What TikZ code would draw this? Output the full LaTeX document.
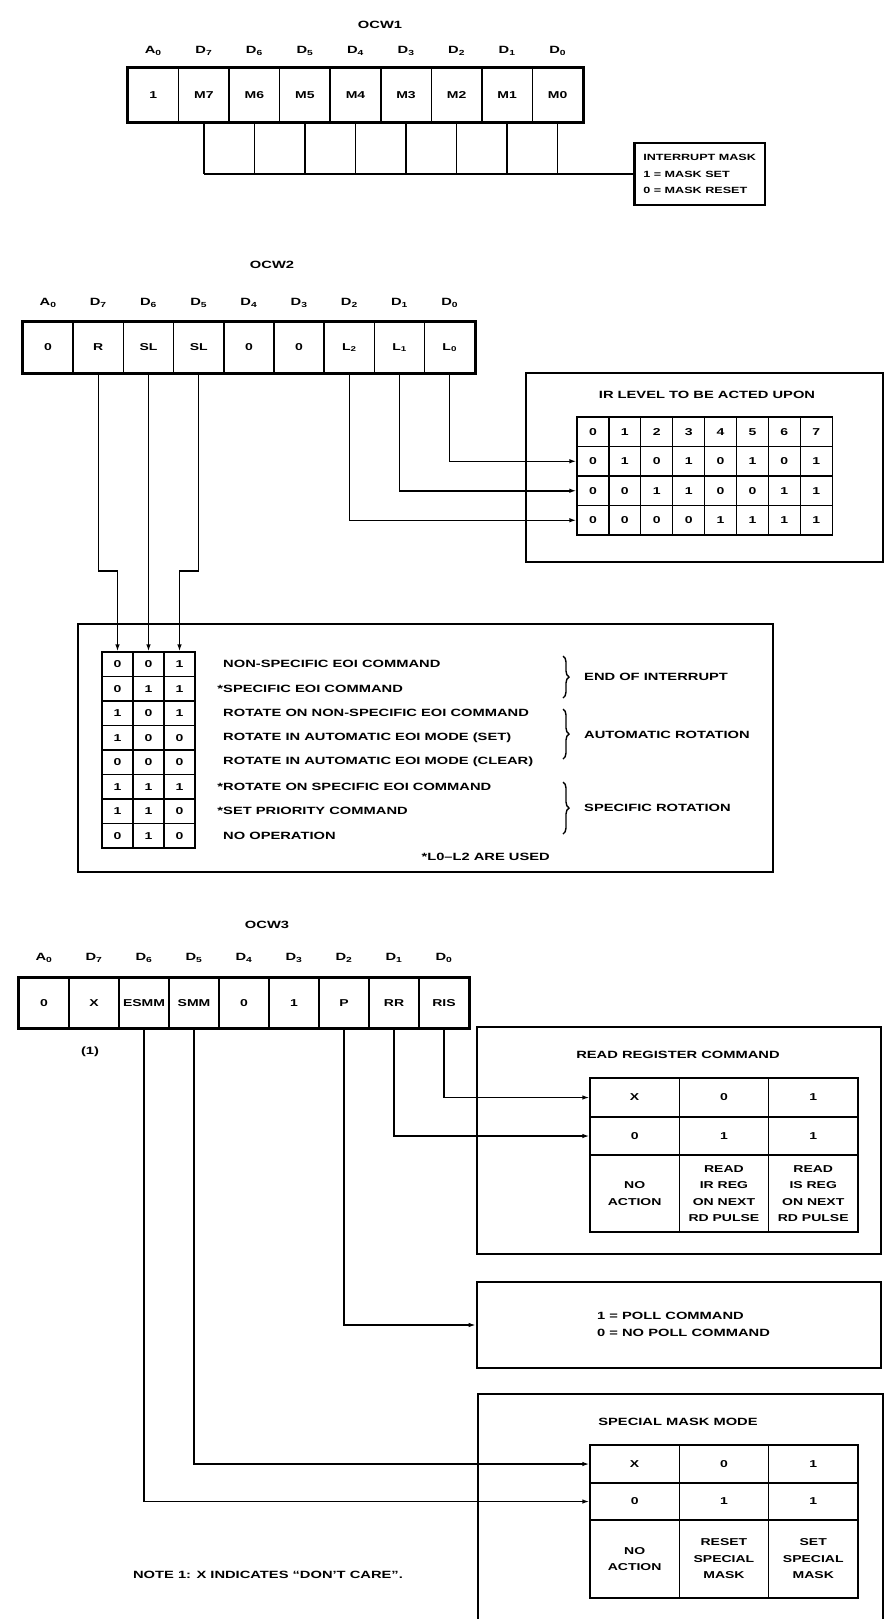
\documentclass[tikz,border=0pt]{standalone}
\usepackage{fontspec}
\usetikzlibrary{arrows.meta,decorations.pathreplacing}
\newfontfamily\lab[FakeStretch=1.4]{Liberation Sans Bold}
\tikzset{
  txt/.style={font=\lab\fontsize{10.5}{13}\selectfont, inner sep=0pt},
  regcell/.style={draw, line width=1.6pt, inner sep=0pt, font=\lab\fontsize{10}{12}\selectfont},
  tcell/.style={draw, line width=1.3pt, inner sep=0pt, font=\lab\fontsize{10}{16.5}\selectfont},
  bigbox/.style={draw, line width=2.6pt, inner sep=0pt},
  conn/.style={line width=1.5pt},
  arr/.style={conn, -{Latex[length=7pt,width=4.5pt]}},
  regframe/.style={line width=2.8pt},
}
\begin{document}
\begin{tikzpicture}[x=1pt,y=-1pt]
\useasboundingbox (0,0) rectangle (886,1619);
\clip (0,0) rectangle (886,1619);
\fill[white] (0,0) rectangle (886,1619);

% ---------------- OCW1 ----------------
\node[txt] (t1) at (380,25) {OCW1};
\foreach \t [count=\i from 0] in {A\textsubscript{0},D\textsubscript{7},D\textsubscript{6},D\textsubscript{5},D\textsubscript{4},D\textsubscript{3},D\textsubscript{2},D\textsubscript{1},D\textsubscript{0}}
  \node[txt] (la\i) at ({153.3+50.55*\i},51) {\t};
\foreach \t [count=\i from 0] in {1,M7,M6,M5,M4,M3,M2,M1,M0}
  \node[regcell, minimum width=50.55pt, minimum height=54pt] (a\i) at ({153.3+50.55*\i},95) {\t};
\draw[regframe] (a0.north west) rectangle (a8.south east);
\node[bigbox, align=left, minimum width=126pt, minimum height=62pt, inner xsep=9pt,
      font=\lab\fontsize{9}{16.5}\selectfont, anchor=west] (mask) at (633,174)
  {INTERRUPT MASK\\1 = MASK SET\\0 = MASK RESET};
\foreach \i in {1,...,8} \draw[conn] (a\i.south) -- (a\i.south |- mask.west);
\draw[conn] (a1.south |- mask.west) -- (mask.west);

% ---------------- OCW2 ----------------
\node[txt] (t2) at (272,265) {OCW2};
\foreach \t [count=\i from 0] in {A\textsubscript{0},D\textsubscript{7},D\textsubscript{6},D\textsubscript{5},D\textsubscript{4},D\textsubscript{3},D\textsubscript{2},D\textsubscript{1},D\textsubscript{0}}
  \node[txt] (lb\i) at ({48.1+50.2*\i},303) {\t};
\foreach \t [count=\i from 0] in {0,R,SL,SL,0,0,L\textsubscript{2},L\textsubscript{1},L\textsubscript{0}}
  \node[regcell, minimum width=50.2pt, minimum height=51pt] (b\i) at ({48.1+50.2*\i},347.5) {\t};
\draw[regframe] (b0.north west) rectangle (b8.south east);

% IR level box
\node[bigbox, minimum width=357pt, minimum height=189pt] (irbox) at (704.5,467.5) {};
\node[txt] (irt) at (707,395) {IR LEVEL TO BE ACTED UPON};
\foreach \row [count=\r from 0] in {{0,1,2,3,4,5,6,7},{0,1,0,1,0,1,0,1},{0,0,1,1,0,0,1,1},{0,0,0,0,1,1,1,1}} {
  \foreach \v [count=\c from 0] in \row {
    \node[tcell, minimum width=31.9pt, minimum height=29.5pt] (ir\r-\c) at ({592.95+31.9*\c},{431.75+29.5*\r}) {\v};
  }
}
\draw[arr] (b8.south) |- (ir1-0.west);
\draw[arr] (b7.south) |- (ir2-0.west);
\draw[arr] (b6.south) |- (ir3-0.west);

% EOI box
\node[bigbox, minimum width=695pt, minimum height=248pt] (eoibox) at (425.5,748) {};
\foreach \row [count=\r from 0] in {{0,0,1},{0,1,1},{1,0,1},{1,0,0},{0,0,0},{1,1,1},{1,1,0},{0,1,0}} {
  \foreach \v [count=\c from 0] in \row {
    \node[tcell, minimum width=31pt, minimum height=24.5pt] (e\r-\c) at ({117.5+31*\c},{664.25+24.5*\r}) {\v};
  }
}
\coordinate (jog) at (0,571);
\draw[arr] (b1.south) -- (b1.south |- jog) -| (e0-0.north);
\draw[arr] (b2.south) -- (b2.south |- jog) -| (e0-1.north);
\draw[arr] (b3.south) -- (b3.south |- jog) -| (e0-2.north);
\foreach \t [count=\r from 0] in {NON-SPECIFIC EOI COMMAND,\llap{*}SPECIFIC EOI COMMAND,ROTATE ON NON-SPECIFIC EOI COMMAND,ROTATE IN AUTOMATIC EOI MODE (SET),ROTATE IN AUTOMATIC EOI MODE (CLEAR),\llap{*}ROTATE ON SPECIFIC EOI COMMAND,\llap{*}SET PRIORITY COMMAND,NO OPERATION}
  \node[txt, anchor=west] (et\r) at (223,{664.25+24.5*\r}) {\t};
\draw[line width=1.4pt, decorate, decoration={brace, amplitude=6pt}] (563,656) -- (563,698);
\draw[line width=1.4pt, decorate, decoration={brace, amplitude=6pt}] (563,709) -- (563,759);
\draw[line width=1.4pt, decorate, decoration={brace, amplitude=6pt}] (563,782) -- (563,834);
\node[txt, anchor=west] (g1) at (584,677) {END OF INTERRUPT};
\node[txt, anchor=west] (g2) at (584,735) {AUTOMATIC ROTATION};
\node[txt, anchor=west] (g3) at (584,808) {SPECIFIC ROTATION};
\node[txt, anchor=east] (fn) at (550,857) {*L0–L2 ARE USED};

% ---------------- OCW3 ----------------
\node[txt] (t3) at (267,925) {OCW3};
\foreach \t [count=\i from 0] in {A\textsubscript{0},D\textsubscript{7},D\textsubscript{6},D\textsubscript{5},D\textsubscript{4},D\textsubscript{3},D\textsubscript{2},D\textsubscript{1},D\textsubscript{0}}
  \node[txt] (lc\i) at ({44+50*\i},958) {\t};
\foreach \t [count=\i from 0] in {0,X,ESMM,SMM,0,1,P,RR,RIS}
  \node[regcell, minimum width=50pt, minimum height=50pt] (c\i) at ({44+50*\i},1003) {\t};
\draw[regframe] (c0.north west) rectangle (c8.south east);
\node[txt] (one) at (90,1052) {(1)};

% Read register box
\node[bigbox, minimum width=404pt, minimum height=227pt] (rrbox) at (679,1140.5) {};
\node[txt] (rrt) at (678,1055) {READ REGISTER COMMAND};
\foreach \v [count=\c from 0] in {X,0,1}
  \node[tcell, minimum width=89.3pt, minimum height=39pt] (rr0-\c) at ({634.65+89.3*\c},1097.5) {\v};
\foreach \v [count=\c from 0] in {0,1,1}
  \node[tcell, minimum width=89.3pt, minimum height=38pt] (rr1-\c) at ({634.65+89.3*\c},1136) {\v};
\foreach \v [count=\c from 0] in {{NO\\ACTION},{READ\\IR REG\\ON NEXT\\RD PULSE},{READ\\IS REG\\ON NEXT\\RD PULSE}}
  \node[tcell, align=center, minimum width=89.3pt, minimum height=77pt] (rr2-\c) at ({634.65+89.3*\c},1193.5) {\v};
\draw[arr] (c8.south) |- (rr0-0.west);
\draw[arr] (c7.south) |- (rr1-0.west);

% Poll box
\node[bigbox, minimum width=404pt, minimum height=86pt] (poll) at (679,1325) {};
\node[txt, align=left, anchor=west, font=\lab\fontsize{10.5}{17}\selectfont] (pollt) at (597,1324) {1 = POLL COMMAND\\0 = NO POLL COMMAND};
\draw[arr] (c6.south) |- (poll.west);

% Special mask box
\node[bigbox, minimum width=405pt, minimum height=240pt] (smbox) at (680.5,1514) {};
\node[txt] (smt) at (678,1422) {SPECIAL MASK MODE};
\foreach \v [count=\c from 0] in {X,0,1}
  \node[tcell, minimum width=89.3pt, minimum height=38pt] (sm0-\c) at ({634.65+89.3*\c},1464) {\v};
\foreach \v [count=\c from 0] in {0,1,1}
  \node[tcell, minimum width=89.3pt, minimum height=37pt] (sm1-\c) at ({634.65+89.3*\c},1501.5) {\v};
\foreach \v [count=\c from 0] in {{NO\\ACTION},{RESET\\SPECIAL\\MASK},{SET\\SPECIAL\\MASK}}
  \node[tcell, align=center, minimum width=89.3pt, minimum height=78pt] (sm2-\c) at ({634.65+89.3*\c},1559) {\v};
\draw[arr] (c3.south) |- (sm0-0.west);
\draw[arr] (c2.south) |- (sm1-0.west);

\node[txt] (note) at (268,1575) {NOTE 1: X INDICATES “DON’T CARE”.};
\end{tikzpicture}
\end{document}
